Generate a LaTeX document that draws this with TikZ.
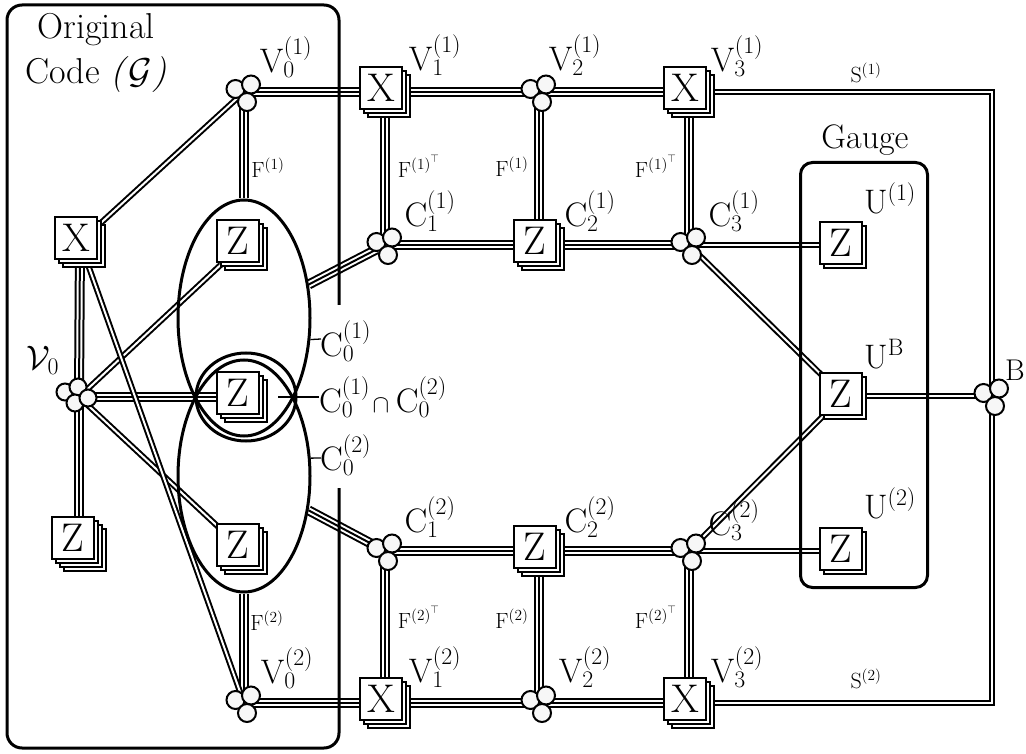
\RequirePackage{fix-cm}
\documentclass[tikz,border=0pt]{standalone}
\usetikzlibrary{shapes.geometric,shadows}
\pgfdeclarelayer{bg}
\pgfsetlayers{bg,main}
\newcommand\fLab{\fontsize{34}{36}\selectfont}
\newcommand\fOC{\fontsize{36}{45}\selectfont}
\newcommand\fSq{\fontsize{40}{41}\selectfont}
\newcommand\fSm{\fontsize{22}{24}\selectfont}
\newcommand\fCap{\fontsize{25}{26}\selectfont}
\newcommand\fBl{\fontsize{30}{32}\selectfont}
\newcommand\shtxt[2]{\hspace*{-#1}\raisebox{#1}[\height][\depth]{#2}\hspace*{#1}}
\tikzset{
 lay/.style 2 args={general shadow={shadow xshift=#1, shadow yshift=#2, fill=white, draw=black, line width=1.8pt}},
 layf/.style 2 args={general shadow={shadow xshift=#1, shadow yshift=#2, fill=white, draw=black, line width=2pt}},
 sqb/.style={shape=rectangle, minimum size=42pt, inner sep=0pt, font=\fSq},
 sqtwo/.style={sqb, lay={2pt}{-2pt}, layf={-2pt}{2pt}},
 sqthree/.style={sqb, lay={4pt}{-4pt}, lay={0pt}{0pt}, layf={-4pt}{4pt}},
 sqfour/.style={sqb, lay={6pt}{-6pt}, lay={2pt}{-2pt}, lay={-2pt}{2pt}, layf={-6pt}{6pt}},
 cc/.style 2 args={general shadow={shadow xshift=#1, shadow yshift=#2, fill=white!97!black, draw=black, line width=2pt}},
 tri/.style={circle, minimum size=18pt, inner sep=0pt, cc={-8.5pt}{3pt}, cc={7pt}{7.5pt}, cc={3pt}{-10pt}},
 quad/.style={circle, minimum size=17pt, inner sep=0pt, cc={-14pt}{5pt}, cc={-1pt}{10pt}, cc={-4pt}{-6pt}, cc={9pt}{-1pt}},
 trip/.style={draw=black, line width=10pt, postaction={draw=white, line width=6pt}, postaction={draw=black, line width=2pt}},
 dbl/.style={draw=black, line width=6pt, postaction={draw=white, line width=2pt}},
 dbls/.style={draw=black, line width=5.2pt, postaction={draw=white, line width=1.2pt}},
 ell/.style={ellipse, draw, line width=3pt, inner sep=0pt},
 lab/.style={font=\fLab, inner sep=0pt},
 labs/.style={font=\fSm, inner sep=0pt},
 tick/.style={draw, line width=1.3pt},
}
\begin{document}
\begin{tikzpicture}[x=1pt,y=-1pt]
\useasboundingbox (0,0) rectangle (1026,754);
% frames
\draw[line width=3pt, rounded corners=15pt] (339,305) -- (339,5) -- (7,5) -- (7,748) -- (339,748) -- (339,488);
\node[draw, line width=3pt, rounded corners=12pt, minimum width=127pt, minimum height=425pt, inner sep=0pt] (gauge) at (864,375) {};
\node[lab] (gaugel) at (865,140) {Gauge};
\node[lab, align=center, font=\fOC] (oc) at (96,53) {Original\\Code \textit{(}$\mathcal{G}$\textit{)}};
% ellipses
\node[ell, minimum width=132pt, minimum height=236pt] (e1) at (244,318) {};
\node[ell, minimum width=132pt, minimum height=232pt] (e2) at (244,476) {};
\node[ell, minimum width=100pt, minimum height=88pt] (e12) at (246,397) {};
% left nodes
\node[sqthree] (x0) at (80,242) {\shtxt{4pt}{X}};
\node[sqfour] (zl) at (79,544) {\shtxt{6pt}{Z}};
\node[quad] (v0) at (79,397) {};
\node[sqthree] (zt) at (242,245) {\shtxt{4pt}{Z}};
\node[sqthree] (zm) at (242,397) {\shtxt{4pt}{Z}};
\node[sqthree] (zb) at (242,549) {\shtxt{4pt}{Z}};
% top row
\node[tri] (v01) at (244,92) {};
\node[sqthree] (x11) at (385,92) {\shtxt{4pt}{X}};
\node[tri] (v21) at (539,92) {};
\node[sqthree] (x31) at (689,92) {\shtxt{4pt}{X}};
% C row 1
\node[tri] (c11) at (385,245) {};
\node[sqthree] (z21) at (539,245) {\shtxt{4pt}{Z}};
\node[tri] (c31) at (689,245) {};
\node[sqtwo] (u1) at (843,245) {\shtxt{2pt}{Z}};
% C row 2
\node[tri] (c12) at (385,551) {};
\node[sqthree] (z22) at (539,551) {\shtxt{4pt}{Z}};
\node[tri] (c32) at (689,551) {};
\node[sqtwo] (u2) at (843,551) {\shtxt{2pt}{Z}};
% bottom row
\node[tri] (v02) at (244,703) {};
\node[sqthree] (x12) at (385,703) {\shtxt{4pt}{X}};
\node[tri] (v22) at (539,703) {};
\node[sqthree] (x32) at (689,703) {\shtxt{4pt}{X}};
% gauge B
\node[sqtwo] (ub) at (843,396) {\shtxt{2pt}{Z}};
\node[tri] (b) at (992,396) {};
% edges
\begin{pgfonlayer}{bg}
\path[trip] (v01) -- (x11);
\path[trip] (x11) -- (v21);
\path[trip] (v21) -- (x31);
\path[trip] (v01) -- (e1);
\path[trip] (e2) -- (v02);
\path[trip] (x11) -- (c11);
\path[trip] (v21) -- (z21);
\path[trip] (x31) -- (c31);
\path[trip] (c11) -- (z21);
\path[trip] (z21) -- (c31);
\path[trip] (e1) -- (c11);
\path[trip] (e2) -- (c12);
\path[trip] (c12) -- (z22);
\path[trip] (z22) -- (c32);
\path[trip] (c12) -- (x12);
\path[trip] (z22) -- (v22);
\path[trip] (c32) -- (x32);
\path[trip] (v02) -- (x12);
\path[trip] (x12) -- (v22);
\path[trip] (v22) -- (x32);
\path[trip] (x0) -- (v0);
\path[trip] (v0) -- (zl);
\path[trip] (v0) -- (zm);
\path[dbl] (v01) -- (x0);
\path[dbl] (v0) -- (zt);
\path[dbl] (v0) -- (zb);
\path[dbl] (x0) -- (v02);
\path[dbl] (c31) -- (u1);
\path[dbl] (c31) -- (ub);
\path[dbl] (c32) -- (ub);
\path[dbl] (c32) -- (u2);
\path[dbl] (ub) -- (b);
\path[dbls] (x31) -- (x31 -| b) -- (b);
\path[dbls] (x32) -- (x32 -| b) -- (b);
\end{pgfonlayer}
% C0 labels and ticks
\node[lab, anchor=west] (lc01) at (320,341) {$\mathrm{C}_0^{(1)}$};
\node[lab, anchor=west] (lc012) at (319,397) {$\mathrm{C}_0^{(1)}$\hspace{2.5pt}{\fCap$\cap$}\hspace{6.5pt}$\mathrm{C}_0^{(2)}$};
\node[lab, anchor=west] (lc02) at (320,455) {$\mathrm{C}_0^{(2)}$};
\coordinate (k1) at (321,339);
\coordinate (k2) at (321,458);
\coordinate (k12a) at (278,397);
\coordinate (k12b) at (319,397);
\path[tick] (e1.-18) -- (k1);
\path[tick] (e2.15) -- (k2);
\path[tick] (k12a) -- (k12b);
% labels
\node[lab] (lv0) at (43,360) {$\mathcal{V}_0$};
\node[lab] (lv01) at (286,57) {$\mathrm{V}_0^{(1)}$};
\node[lab] (lv11) at (435,55) {$\mathrm{V}_1^{(1)}$};
\node[lab] (lv21) at (575,55) {$\mathrm{V}_2^{(1)}$};
\node[lab] (lv31) at (737,56) {$\mathrm{V}_3^{(1)}$};
\node[lab] (lc11) at (430,211) {$\mathrm{C}_1^{(1)}$};
\node[lab] (lc21) at (590,211) {$\mathrm{C}_2^{(1)}$};
\node[lab] (lc31) at (734,211) {$\mathrm{C}_3^{(1)}$};
\node[lab] (lc12) at (430,517) {$\mathrm{C}_1^{(2)}$};
\node[lab] (lc22) at (590,517) {$\mathrm{C}_2^{(2)}$};
\node[lab] (lc32) at (734,520) {$\mathrm{C}_3^{(2)}$};
\node[lab] (lv02) at (287,668) {$\mathrm{V}_0^{(2)}$};
\node[lab] (lv12) at (435,667) {$\mathrm{V}_1^{(2)}$};
\node[lab] (lv22) at (585,667) {$\mathrm{V}_2^{(2)}$};
\node[lab] (lv32) at (737,667) {$\mathrm{V}_3^{(2)}$};
\node[lab] (lu1) at (890,198) {$\mathrm{U}^{(1)}$};
\node[lab] (lub) at (884,354) {$\mathrm{U}^{\mathrm{B}}$};
\node[lab] (lu2) at (890,503) {$\mathrm{U}^{(2)}$};
\node[font=\fBl, inner sep=0pt] (lb) at (1015,370) {B};
\node[labs] (ls1) at (866,73) {$\mathrm{S}^{(1)}$};
\node[labs] (ls2) at (866,679) {$\mathrm{S}^{(2)}$};
\node[labs] (lf01) at (268,168) {$\mathrm{F}^{(1)}$};
\node[labs] (lf02) at (267,621) {$\mathrm{F}^{(2)}$};
\node[labs] (lf11) at (419,166) {$\mathrm{F}^{{(1)}^{\top}}$};
\node[labs] (lf21) at (512,167) {$\mathrm{F}^{(1)}$};
\node[labs] (lf31) at (656,166) {$\mathrm{F}^{{(1)}^{\top}}$};
\node[labs] (lf12) at (419,617) {$\mathrm{F}^{{(2)}^{\top}}$};
\node[labs] (lf22) at (512,619) {$\mathrm{F}^{(2)}$};
\node[labs] (lf32) at (656,617) {$\mathrm{F}^{{(2)}^{\top}}$};
\end{tikzpicture}
\end{document}
